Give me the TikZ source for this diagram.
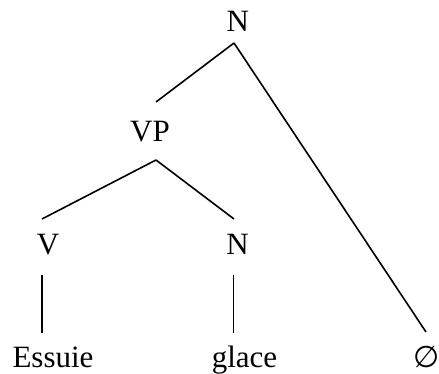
\documentclass[tikz,border=0pt]{standalone}
\usepackage{fontspec}
\setmainfont{Liberation Serif}
\newfontfamily\symfont{DejaVu Sans}
\begin{document}
\begin{tikzpicture}[x=1pt,y=1pt,
  lbl/.style={inner sep=0pt, anchor=base, font=\fontsize{31}{31}\selectfont},
  edge/.style={line width=1.6pt, line cap=butt}]
\useasboundingbox (0,0) rectangle (439,374);
% labels (baseline positions)
\node[lbl] (Ntop) at (237.7,342.3) {N};
\node[lbl] (VP) at (150,232.3) {VP};
\node[lbl] (V) at (48,119) {V};
\node[lbl] (N2) at (237.5,119) {N};
\node[lbl] (Ess) at (53,6) {Essuie};
\node[lbl] (gl) at (244.5,6) {glace};
\node[inner sep=0pt, font=\symfont\fontsize{30}{30}\selectfont] (empty) at (426.7,17) {∅};
% attachment points
\coordinate (NtopS) at (234,331);
\coordinate (VPn) at (156,272);
\coordinate (VPs) at (156,214);
\coordinate (Vn) at (42,155);
\coordinate (Vs) at (42,99);
\coordinate (N2n) at (234,155);
\coordinate (N2s) at (233.5,99);
\coordinate (Essn) at (42,41);
\coordinate (gln) at (233.5,41);
\coordinate (emptyn) at (426,42);
% edges
\draw[edge] (NtopS) -- (VPn);
\draw[edge] (NtopS) -- (emptyn);
\draw[edge] (VPs) -- (Vn);
\draw[edge] (VPs) -- (N2n);
\draw[edge] (Vs) -- (Essn);
\draw[edge] (N2s) -- (gln);
\end{tikzpicture}
\end{document}
